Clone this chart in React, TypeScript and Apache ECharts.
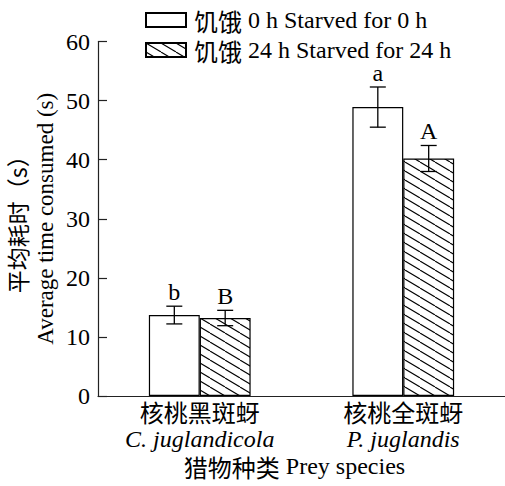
import React, { useEffect, useRef } from "react";
import * as echarts from "echarts";

const speciesCn = ["核桃黑斑蚜", "核桃全斑蚜"];
const speciesLatin = ["C. juglandicola", "P. juglandis"];
const seriesNames = ["饥饿 0 h Starved for 0 h", "饥饿 24 h Starved for 24 h"];
const mean0h = [13.7, 48.9];
const err0h = [1.5, 3.4];
const mean24h = [13.2, 40.2];
const err24h = [1.3, 2.2];
const letters0h = ["b", "a"];
const letters24h = ["B", "A"];
const yTicks = { min: 0, max: 60, interval: 10 };
const yNameCn = "平均耗时（s）";
const yNameEn = "Average time consumed (s)";
const xNameCn = "猎物种类";
const xNameEn = " Prey species";

const CJK = "Noto Sans CJK SC";
const SERIF = "Liberation Serif";

function makeHatch() {
  const c = document.createElement("canvas");
  const w = 15, h = 9;
  c.width = w;
  c.height = h;
  const ctx = c.getContext("2d")!;
  ctx.fillStyle = "#fff";
  ctx.fillRect(0, 0, w, h);
  ctx.strokeStyle = "#000";
  ctx.lineWidth = 1.1;
  for (const k of [-1, 0, 1]) {
    ctx.beginPath();
    ctx.moveTo(k * w, 0);
    ctx.lineTo(k * w + w, h);
    ctx.stroke();
  }
  return c;
}

const splitCjk = (s: string) => {
  const m = s.match(/^([^\x00-\x7f]+)(.*)$/);
  return m ? "{cn|" + m[1] + "}{en|" + m[2] + "}" : "{en|" + s + "}";
};

export default function App() {
  const ref = useRef<HTMLDivElement>(null);
  useEffect(() => {
    const chart = echarts.init(ref.current!, undefined, { renderer: "svg" });
    const hatch = makeHatch();
    const richCnEn = (size: number, lh?: number) => ({
      cn: { fontFamily: CJK, fontSize: size, color: "#000", lineHeight: lh },
      en: { fontFamily: SERIF, fontSize: size, color: "#000", lineHeight: lh },
    });
    const errSeries = (idx: number, means: number[], errs: number[], letters: string[]) => ({
      type: "custom",
      xAxisIndex: 0,
      yAxisIndex: 0,
      silent: true,
      z: 5,
      data: means.map((m, i) => [i, m, errs[i]]),
      renderItem: (params: any, api: any) => {
        const band = api.size([1, 0])[0];
        const bw = band * 0.25;
        const off = idx === 0 ? -bw / 2 : bw / 2;
        const ci = api.value(0);
        const m = api.value(1);
        const e = api.value(2);
        const top = api.coord([ci, m + e]);
        const bot = api.coord([ci, m - e]);
        const x = top[0] + off;
        const cap = 8;
        const st = { stroke: "#000", lineWidth: 1.3 };
        return {
          type: "group",
          children: [
            { type: "line", shape: { x1: x, y1: top[1], x2: x, y2: bot[1] }, style: st },
            { type: "line", shape: { x1: x - cap, y1: top[1], x2: x + cap, y2: top[1] }, style: st },
            { type: "line", shape: { x1: x - cap, y1: bot[1], x2: x + cap, y2: bot[1] }, style: st },
            {
              type: "text",
              x: x,
              y: top[1] - 2,
              style: {
                text: letters[params.dataIndex],
                fontFamily: SERIF,
                fontSize: 24,
                fill: "#000",
                align: "center",
                verticalAlign: "bottom",
              },
            },
          ],
        };
      },
    });
    chart.setOption({
      animation: false,
      textStyle: { fontFamily: SERIF, color: "#000000" },
      legend: {
        orient: "vertical",
        left: 140,
        top: 3,
        itemWidth: 40,
        itemHeight: 14,
        itemGap: 6,
        icon: "rect",
        formatter: (name: string) => splitCjk(name),
        textStyle: {
          fontFamily: SERIF,
          fontSize: 24,
          color: "#000000",
          padding: [0, 0, 0, 3],
          lineHeight: 22,
          rich: richCnEn(24, 22),
        },
        data: seriesNames,
      },
      grid: {
        left: 98,
        right: 0,
        top: 41.5,
        bottom: 90,
        containLabel: false,
        outerBoundsMode: "none",
      },
      xAxis: {
        type: "category",
        data: speciesCn.map((c, i) => c + "\n" + speciesLatin[i]),
        axisTick: { show: false },
        axisLine: { lineStyle: { color: "#222", width: 1.2 } },
        axisLabel: {
          margin: 2,
          color: "#000000",
          formatter: (v: string) => {
            const [cn, la] = v.split("\n");
            return "{cn|" + cn + "}\n{it|" + la + "}";
          },
          rich: {
            cn: { fontFamily: CJK, fontSize: 24, lineHeight: 27, color: "#000000" },
            it: { fontFamily: SERIF, fontSize: 24, lineHeight: 27, fontStyle: "italic", color: "#000000" },
          },
        },
        name: "{cn|" + xNameCn + "}{en|" + xNameEn + "}",
        nameLocation: "middle",
        nameGap: 57,
        nameMoveOverlap: false,
        nameTextStyle: {
          fontFamily: SERIF,
          fontSize: 24,
          color: "#000000",
          lineHeight: 26,
          padding: [0, 14, 0, 0],
          rich: richCnEn(24, 26),
        },
      },
      yAxis: {
        type: "value",
        min: yTicks.min,
        max: yTicks.max,
        interval: yTicks.interval,
        splitLine: { show: false },
        axisLine: { show: true, lineStyle: { color: "#222", width: 1.2 } },
        axisTick: { show: true, inside: true, length: 9, lineStyle: { color: "#222", width: 1.2 } },
        axisLabel: { fontFamily: SERIF, fontSize: 24, color: "#000000", margin: 8 },
        name: "{cn|" + yNameCn + "}\n{en|" + yNameEn + "}",
        nameLocation: "middle",
        nameRotate: 90,
        nameGap: 39,
        nameMoveOverlap: false,
        nameTextStyle: {
          fontFamily: SERIF,
          fontSize: 23,
          color: "#000000",
          lineHeight: 28,
          rich: richCnEn(23, 28),
        },
      },
      series: [
        {
          name: seriesNames[0],
          type: "bar",
          data: mean0h,
          barWidth: "25%",
          barGap: "0%",
          itemStyle: { color: "#fff", borderColor: "#000", borderWidth: 1.2 },
        },
        {
          name: seriesNames[1],
          type: "bar",
          data: mean24h,
          barWidth: "25%",
          barGap: "0%",
          itemStyle: {
            color: { image: hatch, repeat: "repeat" },
            borderColor: "#000",
            borderWidth: 1.2,
          },
        },
        errSeries(0, mean0h, err0h, letters0h),
        errSeries(1, mean24h, err24h, letters24h),
      ],
    });
    return () => chart.dispose();
  }, []);
  return (
    <div
      ref={ref}
      style={{ position: "absolute", left: 0, top: 0, width: 505, height: 486 }}
    />
  );
}
